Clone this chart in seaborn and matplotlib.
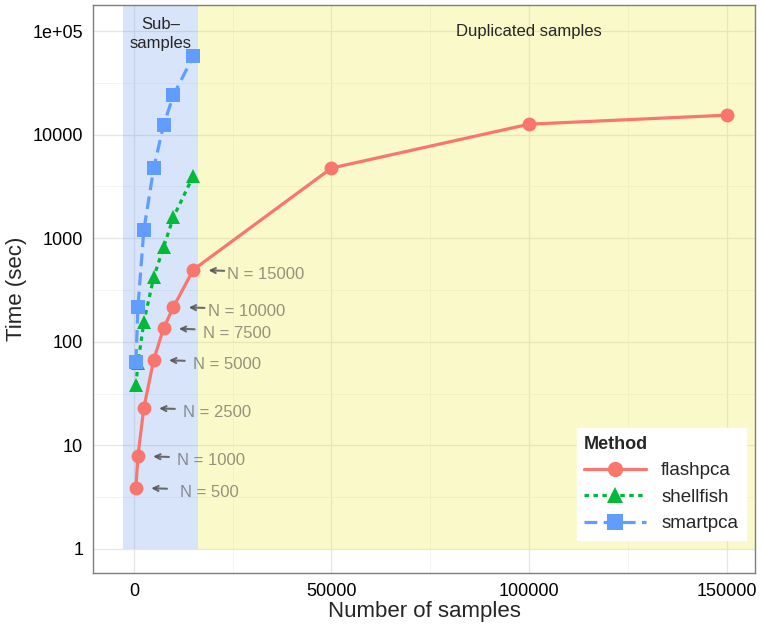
import numpy as np
import pandas as pd
import matplotlib
matplotlib.use("Agg")
import matplotlib.pyplot as plt
import seaborn as sns
from matplotlib.ticker import FixedLocator

# data
methods = ["flashpca", "shellfish", "smartpca"]
flash_n = [500, 1000, 2500, 5000, 7500, 10000, 15000, 50000, 100000, 150000]
flash_t = [3.9, 7.9, 23, 67, 135, 217, 495, 4750, 12600, 15400]
shell_n = [500, 1000, 2500, 5000, 7500, 10000, 15000]
shell_t = [38, 62, 155, 420, 820, 1600, 3980]
smart_n = [500, 1000, 2500, 5000, 7500, 10000, 15000]
smart_t = [64, 217, 1200, 4750, 12400, 24000, 57000]
label_n = [500, 1000, 2500, 5000, 7500, 10000, 15000]
ytick_vals = [1, 10, 100, 1000, 10000, 100000]
ytick_labels = ["1", "10", "100", "1000", "10000", "1e+05"]
xtick_vals = [0, 50000, 100000, 150000]
sub_range = [-2800, 16200]

df = pd.concat([
    pd.DataFrame({"n": flash_n, "time": flash_t, "Method": "flashpca"}),
    pd.DataFrame({"n": shell_n, "time": shell_t, "Method": "shellfish"}),
    pd.DataFrame({"n": smart_n, "time": smart_t, "Method": "smartpca"}),
])

sns.set_style("white")
plt.rcParams["font.family"] = ["Liberation Sans", "DejaVu Sans"]

fig = plt.figure(figsize=(7.62, 6.33), dpi=100)
ax = fig.add_axes([0.122, 0.0948, 0.8688, 0.8973])

ax.set_yscale("log")
ax.set_xlim(-10380, 157200)
ax.set_ylim(10 ** -0.232, 10 ** 5.251)

# background regions
ax.fill_between([sub_range[0], sub_range[1]], 1, 10 ** 5.251,
                color=(0.40, 0.58, 0.93), alpha=0.25, lw=0, zorder=1)
ax.fill_between([sub_range[1], 157200], 1, 10 ** 5.251,
                color=(0.93, 0.93, 0.30), alpha=0.30, lw=0, zorder=1)

palette = {"flashpca": "#F8766D", "shellfish": "#00BA38", "smartpca": "#619CFF"}
sns.lineplot(data=df, x="n", y="time", hue="Method", style="Method",
             hue_order=methods, style_order=methods, palette=palette,
             markers={"flashpca": "o", "shellfish": "^", "smartpca": "s"},
             dashes={"flashpca": "", "shellfish": (1.4, 1.4), "smartpca": (4, 2)},
             markersize=10, markeredgewidth=0, linewidth=2.3, ax=ax, zorder=3)

# annotations N = ...
text_dx = [44, 39, 39, 39, 39, 35, 34]
for n, dx in zip(label_n, text_dx):
    t = flash_t[flash_n.index(n)]
    ax.annotate("", xy=(n, t), xytext=(31, -1), textcoords="offset pixels",
                arrowprops=dict(arrowstyle="->", color="#555555", alpha=0.85,
                                lw=1.5, shrinkA=0, shrinkB=11,
                                mutation_scale=9), zorder=4)
    ax.annotate("N = %d" % n, xy=(n, t), xytext=(dx, -5), textcoords="offset pixels",
                ha="left", va="center", fontsize=12, color="#404040", alpha=0.55,
                zorder=4)

ax.text(np.mean(sub_range), 10 ** 4.97, "Sub\u2013\nsamples", ha="center", va="center",
        fontsize=12, linespacing=1.3, zorder=4)
ax.text(100000, 10 ** 5.0, "Duplicated samples", ha="center", va="center",
        fontsize=12, zorder=4)

# axes styling
ax.yaxis.set_major_locator(FixedLocator(ytick_vals))
ax.set_yticklabels(ytick_labels)
ax.yaxis.set_minor_locator(FixedLocator([10 ** (k + 0.5) for k in range(-1, 6)]))
ax.set_xticks(xtick_vals)
ax.set_xticklabels([str(v) for v in xtick_vals])
ax.xaxis.set_minor_locator(FixedLocator([-25000, 25000, 75000, 125000]))
ax.grid(which="major", color="#E6E6E6", lw=0.9)
ax.grid(which="minor", color="#F2F2F2", lw=0.6)
ax.set_axisbelow(True)
ax.tick_params(axis="both", which="major", direction="out", length=4, width=1,
               color="#333333", labelsize=13, labelcolor="black", pad=3)
ax.tick_params(axis="both", which="minor", length=0)
for s in ax.spines.values():
    s.set_color("#7F7F7F")
    s.set_linewidth(1)
ax.set_xlabel("Number of samples", fontsize=16, labelpad=1)
ax.set_ylabel("Time (sec)", fontsize=16, labelpad=4)

leg = ax.legend(title="Method", loc="lower right", bbox_to_anchor=(1.0, 0.042),
                fontsize=13.5, title_fontproperties={"weight": "bold", "size": 13},
                handlelength=3.3, frameon=True, fancybox=False, borderpad=0.4,
                labelspacing=0.5, markerscale=1.1)
leg._legend_box.align = "left"
leg.get_frame().set_edgecolor("white")
leg.get_frame().set_facecolor("white")
leg.get_frame().set_alpha(1)
leg.set_zorder(5)

plt.savefig("out.png", dpi=100)
